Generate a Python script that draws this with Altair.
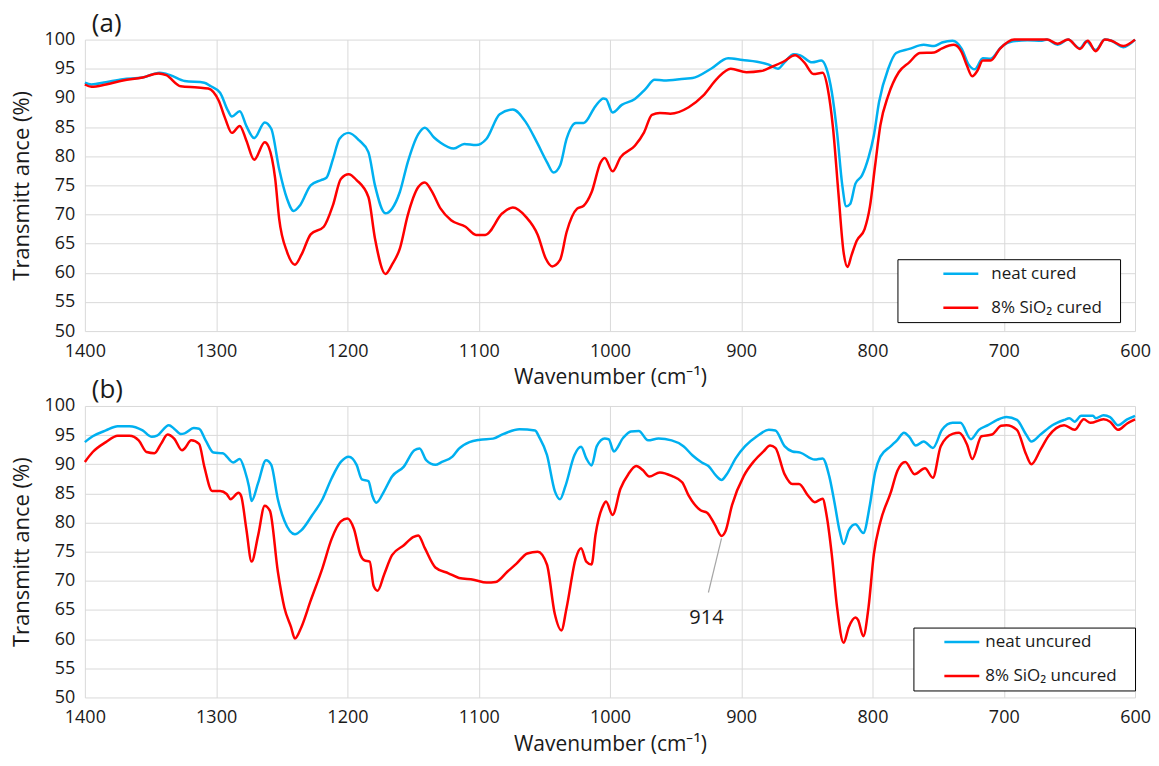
import altair as alt
import pandas as pd

# ---------------- data ----------------
A_NEAT_WN = [1400, 1395, 1384, 1371, 1356, 1343, 1335, 1324, 1309, 1304, 1297, 1291, 1288, 1282, 1277, 1271,
             1263, 1258, 1252, 1246, 1241, 1236, 1228, 1220, 1216, 1211, 1206, 1199, 1191, 1184, 1179, 1171,
             1166, 1160, 1154, 1146, 1141, 1134, 1129, 1119, 1111, 1102, 1094, 1084, 1074, 1064, 1055, 1048,
             1043, 1038, 1033, 1026, 1020, 1011, 1005, 1003, 998, 991, 981, 973, 966, 959, 943, 937, 923,
             910, 899, 888, 879, 872, 867, 860, 855, 846, 839, 835, 831, 827, 823, 820, 817, 813, 808, 803,
             799, 795, 788, 782, 772, 761, 753, 747, 739, 732, 727, 722, 716, 710, 702, 693, 682, 671, 667,
             659, 651, 642, 637, 630, 623, 618, 609, 600]
A_NEAT_T = [92.6, 92.3, 92.7, 93.2, 93.5, 94.3, 93.9, 92.9, 92.6, 92.0, 90.9, 87.8, 86.8, 87.7, 85.2, 83.1,
            85.8, 84.7, 77.8, 72.7, 70.6, 71.6, 75.0, 75.9, 76.3, 79.5, 83.0, 84.0, 82.7, 80.7, 75.0, 70.2,
            71.0, 73.9, 79.0, 83.8, 84.9, 83.2, 82.3, 81.3, 82.1, 81.9, 83.0, 87.2, 88.0, 85.8, 82.1, 79.0,
            77.2, 78.4, 83.0, 85.7, 85.7, 88.6, 89.9, 89.8, 87.5, 88.8, 89.8, 91.5, 93.1, 93.0, 93.3, 93.4, 95.0,
            96.8, 96.5, 96.2, 95.7, 95.0, 96.1, 97.5, 97.3, 96.1, 96.4, 95.0, 91.0, 84.1, 75.0, 71.4, 71.8, 75.3, 76.7, 79.8,
            83.5, 89.3, 95.0, 97.7, 98.4, 99.1, 98.9, 99.5, 99.8, 98.4, 95.8, 94.9, 96.8, 96.7, 98.7, 99.7, 99.9, 99.8, 100.0,
            99.1, 100.0, 98.5, 99.7, 98.2, 100.0, 99.8, 98.7, 100.0]

A_SIO2_WN = [1400, 1395, 1384, 1371, 1356, 1344, 1338, 1327, 1314, 1306, 1298, 1293, 1288, 1282, 1277, 1271,
             1263, 1260, 1255, 1252, 1246, 1240, 1235, 1228, 1218, 1211, 1205, 1199, 1193, 1184, 1179, 1171,
             1166, 1160, 1154, 1146, 1141, 1136, 1129, 1121, 1110, 1102, 1095, 1082, 1074, 1064, 1055, 1049,
             1044, 1038, 1033, 1025, 1020, 1014, 1007, 1004, 998, 992, 981, 974, 968, 962, 954, 940, 929, 918,
             908, 896, 885, 877, 868, 859, 852, 845, 838, 834, 830, 826, 822, 819, 816, 812, 806, 802, 798,
             794, 788, 780, 772, 764, 753, 747, 738, 732, 728, 724, 720, 716, 710, 703, 692, 679, 667, 659,
             651, 642, 636, 630, 623, 618, 609, 600]
A_SIO2_T = [92.3, 91.9, 92.3, 93.0, 93.5, 94.2, 93.9, 92.0, 91.8, 91.6, 89.5, 86.4, 84.0, 85.2, 82.7, 79.4,
            82.4, 81.6, 76.1, 69.3, 63.6, 61.4, 63.1, 66.6, 67.9, 71.6, 76.1, 76.9, 75.9, 73.0, 65.9, 59.8,
            61.4, 64.2, 69.9, 74.7, 75.5, 74.1, 71.0, 69.0, 67.9, 66.5, 66.5, 70.2, 71.2, 69.6, 66.5, 62.5,
            61.1, 62.2, 67.0, 71.0, 71.5, 73.8, 79.0, 79.7, 77.4, 79.8, 81.8, 84.1, 87.1, 87.4, 87.3, 88.4, 90.4, 93.4,
            95.0, 94.4, 94.6, 95.3, 96.2, 97.3, 96.1, 94.1, 94.3, 91.5, 84.7, 73.8, 63.5, 61.0, 63.0, 65.5, 67.5, 71.3, 78.4,
            85.3, 90.4, 94.4, 96.1, 97.7, 97.8, 98.5, 99.1, 97.8, 95.5, 93.7, 94.7, 96.4, 96.4, 98.4, 100.0, 100.0, 100.0, 99.3,
            100.0, 98.4, 99.8, 98.0, 100.0, 99.8, 98.9, 100.0]

B_NEAT_WN = [1400, 1394, 1384, 1375, 1366, 1356, 1349, 1345, 1336, 1332, 1327, 1324, 1317, 1313, 1308, 1302,
             1295, 1287, 1282, 1278, 1275, 1273, 1268, 1262, 1258, 1253, 1248, 1240, 1235, 1227, 1219, 1212,
             1205, 1199, 1193, 1189, 1184, 1181, 1178, 1172, 1166, 1157, 1149, 1145, 1140, 1133, 1128, 1120,
             1115, 1107, 1099, 1089, 1081, 1069, 1057, 1054, 1048, 1042, 1038, 1034, 1027, 1022, 1018, 1014,
             1010, 1004, 1001, 997, 990, 984, 978, 971, 963, 953, 944, 937, 930, 925, 919, 915, 911, 904, 897,
             888, 879, 874, 867, 861, 855, 844, 838, 833, 829, 825, 822, 818, 813, 807, 802, 798, 794, 786,
             781, 776, 772, 767, 761, 754, 747, 739, 733, 725, 719, 712, 705, 698, 690, 683, 679, 672, 663,
             654, 650, 646, 641, 632, 630, 624, 619, 613, 606, 600]
B_NEAT_T = [93.8, 94.8, 95.8, 96.5, 96.5, 95.8, 94.7, 94.9, 96.7, 96.1, 95.2, 95.3, 96.2, 96.1, 94.1, 92.0,
            91.9, 90.3, 90.9, 88.8, 86.2, 83.7, 86.8, 90.7, 89.9, 84.0, 80.3, 78.0, 78.7, 81.2, 84.0, 87.6,
            90.4, 91.3, 89.9, 87.4, 87.1, 84.6, 83.4, 85.4, 87.9, 89.6, 92.4, 92.7, 90.7, 89.9, 90.4, 91.3,
            92.7, 93.8, 94.2, 94.4, 95.2, 96.0, 95.8, 94.7, 91.6, 85.4, 84.0, 86.2, 91.6, 93.0, 91.0, 89.8,
            93.1, 94.4, 94.3, 92.2, 94.5, 95.6, 95.7, 94.1, 94.4, 94.1, 93.1, 91.5, 90.3, 89.7, 88.0, 87.3, 88.3, 91.1, 93.1,
            94.8, 95.9, 95.8, 93.1, 92.2, 92.0, 90.8, 91.0, 88.0, 83.5, 78.5, 76.3, 78.7, 79.7, 78.2, 83.0, 88.6, 91.3, 93.1,
            94.2, 95.4, 94.7, 93.2, 93.9, 92.8, 95.9, 97.1, 97.1, 94.3, 95.9, 96.7, 97.6, 98.1, 97.6, 95.1, 93.9, 95.1, 96.7,
            97.6, 97.9, 97.3, 98.3, 98.3, 97.9, 98.4, 98.1, 96.7, 97.7, 98.3]

B_SIO2_WN = [1400, 1394, 1384, 1375, 1366, 1359, 1353, 1347, 1342, 1337, 1332, 1326, 1324, 1319, 1313, 1309,
             1303, 1297, 1292, 1289, 1283, 1281, 1277, 1273, 1268, 1263, 1259, 1253, 1248, 1243, 1240, 1235,
             1228, 1219, 1212, 1205, 1200, 1195, 1190, 1187, 1183, 1180, 1177, 1172, 1166, 1157, 1150, 1146,
             1141, 1133, 1123, 1115, 1104, 1094, 1087, 1078, 1071, 1063, 1055, 1048, 1042, 1037, 1033, 1026,
             1022, 1018, 1014, 1011, 1005, 1003, 998, 992, 986, 980, 975, 970, 962, 953, 945, 940, 931, 926,
             920, 915, 912, 907, 898, 890, 883, 878, 874, 867, 861, 856, 849, 844, 838, 835, 831, 827, 822,
             818, 813, 811, 807, 803, 799, 794, 786, 781, 775, 768, 760, 754, 748, 739, 734, 728, 724, 717,
             709, 702, 698, 690, 683, 679, 672, 666, 654, 646, 639, 634, 624, 619, 613, 606, 600]
B_SIO2_T = [90.4, 92.1, 93.8, 94.9, 94.9, 94.1, 92.1, 91.9, 93.5, 95.1, 94.4, 92.4, 92.7, 94.1, 93.5, 89.6,
            85.4, 85.4, 84.9, 84.0, 85.1, 84.6, 78.9, 73.3, 77.8, 82.9, 82.0, 71.6, 65.4, 62.1, 60.1, 62.1,
            66.6, 72.2, 77.2, 80.2, 80.7, 78.9, 74.4, 73.5, 73.3, 69.1, 68.3, 71.1, 74.4, 76.1, 77.5, 77.8,
            75.6, 72.3, 71.3, 70.5, 70.2, 69.7, 69.8, 71.6, 73.0, 74.7, 75.0, 72.8, 64.3, 61.5, 65.4, 73.9,
            75.6, 73.3, 72.8, 77.9, 83.0, 83.6, 81.3, 85.8, 88.3, 89.7, 89.0, 87.9, 88.6, 88.0, 86.9, 84.6, 82.1, 81.7,
            79.6, 77.7, 78.5, 83.0, 88.0, 90.6, 92.2, 93.2, 92.8, 88.3, 86.6, 86.6, 84.6, 83.5, 84.1, 81.3, 74.5, 65.5, 59.4,
            62.1, 63.7, 63.3, 60.5, 65.5, 74.5, 80.1, 85.2, 88.9, 90.4, 88.3, 89.3, 87.7, 93.1, 95.2, 95.4, 93.4, 90.9, 94.8,
            95.1, 96.6, 96.7, 95.9, 91.7, 90.0, 92.5, 94.8, 96.7, 95.9, 97.7, 97.1, 97.7, 97.3, 95.9, 97.0, 97.7]

SERIES_A = ["neat cured", "8% SiO₂ cured"]
SERIES_B = ["neat uncured", "8% SiO₂ uncured"]
X_TICKS = [1400, 1300, 1200, 1100, 1000, 900, 800, 700, 600]
Y_TICKS = [50, 55, 60, 65, 70, 75, 80, 85, 90, 95, 100]
PANEL_TAGS = ["(a)", "(b)"]
ANNOT_LABEL = ["914"]
ANNOT_LINE = {"wn": [915], "t": [77.3], "wn2": [925], "t2": [68.0]}
ANNOT_TEXT = {"wn": [926.5], "t": [63.6]}

BLUE = "#00B0F0"
RED = "#FF0000"
FONT = "Open Sans"
TXT = "#1a1a1a"
BLANK = "\u2800"   # blank glyph used to widen the legend box (not trimmed like spaces)
W, H = 1052, 292


def xy():
    x = alt.X("wn:Q",
              scale=alt.Scale(domain=[600, 1400], reverse=True, nice=False, zero=False),
              axis=alt.Axis(values=X_TICKS, format="d", title="Wavenumber (cm⁻¹)",
                            labelPadding=11, titlePadding=7, labelFlush=False, titleFontSize=21))
    y = alt.Y("t:Q",
              scale=alt.Scale(domain=[50, 100], nice=False, zero=False),
              axis=alt.Axis(values=Y_TICKS, format="d", title="Transmitt ance (%)",
                            labelPadding=10, titlePadding=11, labelFlush=False, titleFontSize=22))
    return x, y


def panel(wn1, t1, wn2, t2, names, tag, lx, ly, sym_off, lab_off, pad_chars, annotate=False):
    df1 = pd.DataFrame({"wn": wn1, "t": t1, "series": names[0]})
    df2 = pd.DataFrame({"wn": wn2, "t": t2, "series": names[1]})
    x, y = xy()
    color = alt.Color("series:N",
                      scale=alt.Scale(domain=names, range=[BLUE, RED]),
                      legend=alt.Legend(title=None, orient="none", legendX=lx, legendY=ly,
                                        strokeColor="black", fillColor="white", padding=6,
                                        cornerRadius=0, symbolType="M-2.5,0H2.5", symbolSize=196,
                                        symbolStrokeWidth=2.5, labelFont=FONT, labelFontSize=17,
                                        labelColor=TXT, rowPadding=16, symbolOffset=sym_off,
                                        labelOffset=lab_off,
                                        labelExpr="datum.label + '" + BLANK * pad_chars + "'"))
    l1 = alt.Chart(df1).mark_line(strokeWidth=2.5, interpolate="monotone").encode(x=x, y=y, color=color)
    l2 = alt.Chart(df2).mark_line(strokeWidth=2.5, interpolate="monotone").encode(x=x, y=y, color=color)
    lab = alt.Chart(pd.DataFrame({"lab": [tag]})).mark_text(
        align="left", baseline="middle", font=FONT, fontSize=26, color=TXT
    ).encode(text="lab:N", x=alt.value(7), y=alt.value(-16))
    layers = [l1, l2, lab]
    if annotate:
        dline = pd.DataFrame(ANNOT_LINE)
        rule = alt.Chart(dline).mark_rule(color="#a6a6a6", strokeWidth=1.2).encode(
            x=x, y=y, x2="wn2:Q", y2="t2:Q")
        dtext = pd.DataFrame({**ANNOT_TEXT, "lab": ANNOT_LABEL})
        txt = alt.Chart(dtext).mark_text(font=FONT, fontSize=20, color=TXT, baseline="middle").encode(
            x=x, y=y, text="lab:N")
        layers = [rule, l1, l2, txt, lab]
    return alt.layer(*layers).properties(width=W, height=H)


pa = panel(A_NEAT_WN, A_NEAT_T, A_SIO2_WN, A_SIO2_T, SERIES_A, PANEL_TAGS[0], 814, 220, 49, 22, 1)
pb = panel(B_NEAT_WN, B_NEAT_T, B_SIO2_WN, B_SIO2_T, SERIES_B, PANEL_TAGS[1], 830, 222, 34, 15, 1,
           annotate=True)

chart = alt.vconcat(pa, pb, spacing=75, bounds="flush").resolve_scale(color="independent").properties(
    padding={"left": 2, "top": 2, "right": 0, "bottom": 0}
).configure_view(stroke=None).configure_axis(
    grid=True, gridColor="#d9d9d9", gridWidth=1, domain=False, ticks=False,
    labelFont=FONT, labelFontSize=18, labelColor=TXT,
    titleFont=FONT, titleFontWeight="normal", titleColor=TXT
)

chart.save("out.html", embed_options={"renderer": "svg", "actions": False})
